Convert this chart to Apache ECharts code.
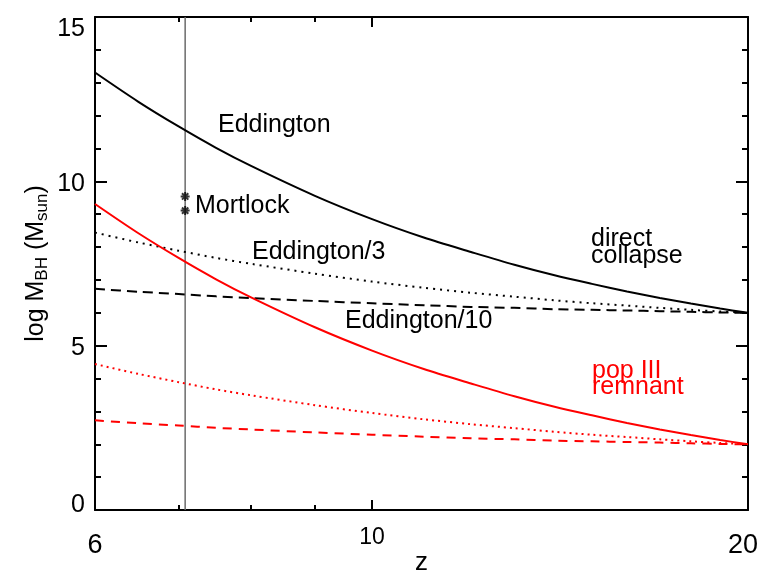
<!DOCTYPE html>
<html>
<head>
<meta charset="utf-8">
<script src="https://cdn.jsdelivr.net/npm/echarts@6/dist/echarts.min.js"></script>
<style>html,body{margin:0;padding:0;background:#fff}#c{width:769px;height:578px}</style>
</head>
<body>
<div id="c"></div>
<script>
// redshift samples
const zVals = [6, 6.5, 7, 7.5, 8, 9, 10, 11, 12, 13, 14, 15, 16, 17, 18, 19, 20];
// direct collapse seed (log M = 6 at z=20)
const dcEdd   = [13.31, 12.42, 11.67, 11.02, 10.47, 9.56, 8.85, 8.29, 7.85, 7.46, 7.14, 6.88, 6.65, 6.45, 6.28, 6.13, 6.00];
const dcEdd3  = [8.44, 8.14, 7.89, 7.67, 7.49, 7.19, 6.95, 6.76, 6.61, 6.49, 6.38, 6.29, 6.22, 6.15, 6.09, 6.04, 6.00];
const dcEdd10 = [6.73, 6.64, 6.57, 6.50, 6.45, 6.36, 6.29, 6.23, 6.18, 6.15, 6.11, 6.09, 6.07, 6.05, 6.03, 6.01, 6.00];
// pop III remnant seed (log M = 2 at z=20)
const p3Edd   = [9.31, 8.42, 7.67, 7.02, 6.47, 5.56, 4.85, 4.29, 3.85, 3.46, 3.14, 2.88, 2.65, 2.45, 2.28, 2.13, 2.00];
const p3Edd3  = [4.44, 4.14, 3.89, 3.67, 3.49, 3.19, 2.95, 2.76, 2.61, 2.49, 2.38, 2.29, 2.22, 2.15, 2.09, 2.04, 2.00];
const p3Edd10 = [2.73, 2.64, 2.57, 2.50, 2.45, 2.36, 2.29, 2.23, 2.18, 2.15, 2.11, 2.09, 2.07, 2.05, 2.03, 2.01, 2.00];
// Mortlock quasar
const mortlockZ = 7.085;
const mortlockM = [9.54, 9.11];
// axis ticks
const xLabelVals = [6, 10, 20];
const xMajorTicks = [10];
const xMinorTicks = [7, 8, 9];

const FONT = '"Liberation Sans", Arial, Helvetica, sans-serif';
const pair = arr => zVals.map((z, i) => [z, arr[i]]);

const chart = echarts.init(document.getElementById('c'), null, {renderer: 'canvas'});

function xAxisDef(pos, ticks, len, showLine, showLabel) {
  return {
    type: 'log', logBase: 10, min: 6, max: 20, position: pos, gridIndex: 0,
    axisLine: {show: showLine, lineStyle: {color: '#000', width: 2}},
    axisTick: {show: true, inside: true, length: len, customValues: ticks, lineStyle: {color: '#000', width: 2}},
    axisLabel: showLabel ? {
      show: true, customValues: xLabelVals, margin: 16, fontFamily: FONT, color: '#000',
      formatter: v => {
        const r = Math.round(v);
        if (r === 10) return '{s|10}';
        if (r === 20) return '{e|20}';
        return '{b|' + r + '}';
      },
      rich: {
        s: {fontSize: 23, lineHeight: 24, fontFamily: FONT, color: '#000'},
        b: {fontSize: 27, lineHeight: 40, fontFamily: FONT, color: '#000'},
        e: {fontSize: 27, lineHeight: 40, fontFamily: FONT, color: '#000', padding: [0, 10, 0, 0]}
      }
    } : {show: false},
    splitLine: {show: false}, minorTick: {show: false}, minorSplitLine: {show: false}
  };
}

const xAxes = [
  Object.assign(xAxisDef('bottom', xMajorTicks, 10, true, true), {
    name: 'z', nameLocation: 'middle', nameGap: 40, nameMoveOverlap: false,
    nameTextStyle: {fontSize: 26, lineHeight: 26, fontFamily: FONT, color: '#000'}
  }),
  xAxisDef('bottom', xMinorTicks, 5, false, false),
  xAxisDef('top', xMajorTicks, 10, true, false),
  xAxisDef('top', xMinorTicks, 5, false, false)
];

function yAxisDef(pos, showLabel) {
  return {
    type: 'value', min: 0, max: 15, interval: 5, position: pos, gridIndex: 0,
    axisLine: {show: true, lineStyle: {color: '#000', width: 2}},
    axisTick: {show: true, inside: true, length: 12, lineStyle: {color: '#000', width: 2}},
    minorTick: {show: true, splitNumber: 5, length: 6, lineStyle: {color: '#000', width: 2}},
    splitLine: {show: false},
    axisLabel: showLabel ? {
      show: true, margin: 10, fontFamily: FONT, color: '#000',
      formatter: v => v === 15 ? '{hi|15}' : (v === 0 ? '{lo|0}' : '{m|' + v + '}'),
      rich: {
        m: {fontSize: 25, fontFamily: FONT, color: '#000', padding: [5, 0, 0, 0]},
        hi: {fontSize: 25, fontFamily: FONT, color: '#000', padding: [24, 0, 0, 0]},
        lo: {fontSize: 25, fontFamily: FONT, color: '#000', padding: [3, 0, 12, 0]}
      }
    } : {show: false}
  };
}

const yAxes = [
  Object.assign(yAxisDef('left', true), {
    name: '{n|log M}{s|BH}{n| (M}{s|sun}{n|)}',
    nameLocation: 'middle', nameGap: 44, nameRotate: 90, nameMoveOverlap: false,
    nameTextStyle: {
      fontFamily: FONT, color: '#000',
      rich: {
        n: {fontSize: 25, lineHeight: 30, fontFamily: FONT, color: '#000'},
        s: {fontSize: 17, lineHeight: 17, verticalAlign: 'bottom', fontFamily: FONT, color: '#000'}
      }
    }
  }),
  yAxisDef('right', false)
];

function curve(data, color, type) {
  return {
    type: 'line', data: pair(data), showSymbol: false, smooth: 0.3, silent: true,
    lineStyle: {color: color, width: 2, type: type},
    z: 3
  };
}

const DOT_BLACK = [2, 5];
const DASH_BLACK = [10, 6];
const DOT_RED = [2, 4];
const DASH_RED = [9, 7];

const txt = (x, y, s, color) => ({
  type: 'text', left: x, top: y - 14,
  style: {text: s, fontSize: 25, fontFamily: FONT, fill: color || '#000', lineHeight: 28}
});

chart.setOption({
  animation: false,
  backgroundColor: '#fff',
  grid: {left: 95, top: 17, width: 653, height: 493, containLabel: false, outerBoundsMode: 'none'},
  xAxis: xAxes,
  yAxis: yAxes,
  series: [
    {
      type: 'line', data: [[mortlockZ, 0], [mortlockZ, 15]], showSymbol: false, silent: true,
      lineStyle: {color: '#6b6b6b', width: 1.5}, z: 2
    },
    curve(dcEdd, '#000', 'solid'),
    curve(dcEdd3, '#000', DOT_BLACK),
    curve(dcEdd10, '#000', DASH_BLACK),
    curve(p3Edd, '#ff0000', 'solid'),
    curve(p3Edd3, '#ff0000', DOT_RED),
    curve(p3Edd10, '#ff0000', DASH_RED),
    {
      type: 'scatter', silent: true, z: 5,
      data: mortlockM.map(m => [mortlockZ, m]),
      symbol: 'path://M-1,0L1,0M-0.7,-0.7L0.7,0.7M-0.7,0.7L0.7,-0.7M0,-1L0,1',
      symbolSize: 9,
      itemStyle: {color: 'rgba(0,0,0,0)', borderColor: '#000', borderWidth: 2}
    }
  ],
  graphic: [
    txt(218, 125, 'Eddington'),
    txt(195, 206, 'Mortlock'),
    txt(252, 252, 'Eddington/3'),
    txt(345, 321, 'Eddington/10'),
    txt(591, 239, 'direct'),
    txt(591, 256, 'collapse'),
    txt(592, 371, 'pop III', '#ff0000'),
    txt(592, 387, 'remnant', '#ff0000')
  ]
});
</script>
</body>
</html>
